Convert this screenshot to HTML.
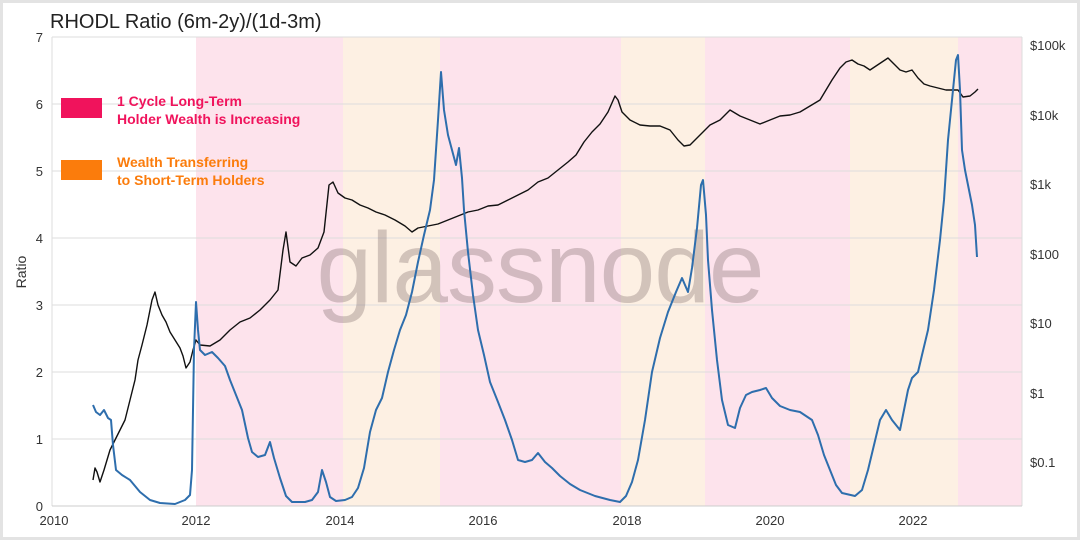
<!DOCTYPE html>
<html><head><meta charset="utf-8"><style>
html,body{margin:0;padding:0;background:#fff}
svg{display:block}
text{font-family:"Liberation Sans",sans-serif}
</style></head><body>
<svg width="1080" height="540" viewBox="0 0 1080 540" xmlns="http://www.w3.org/2000/svg">
<rect x="1.5" y="1.5" width="1077" height="537" fill="#fff" stroke="#e3e3e3" stroke-width="3"/>
<text x="50" y="28" font-size="20" fill="#222">RHODL Ratio (6m-2y)/(1d-3m)</text>
<rect x="196" y="37" width="147" height="469" fill="#fde3ec"/>
<rect x="343" y="37" width="97" height="469" fill="#fdf0e3"/>
<rect x="440" y="37" width="181" height="469" fill="#fde3ec"/>
<rect x="621" y="37" width="84" height="469" fill="#fdf0e3"/>
<rect x="705" y="37" width="145" height="469" fill="#fde3ec"/>
<rect x="850" y="37" width="108" height="469" fill="#fdf0e3"/>
<rect x="958" y="37" width="64" height="469" fill="#fde3ec"/>
<g stroke="#ddd" stroke-width="1">
<line x1="52" y1="37" x2="1022" y2="37"/><line x1="52" y1="104" x2="1022" y2="104"/>
<line x1="52" y1="171" x2="1022" y2="171"/><line x1="52" y1="238" x2="1022" y2="238"/>
<line x1="52" y1="305" x2="1022" y2="305"/><line x1="52" y1="372" x2="1022" y2="372"/>
<line x1="52" y1="439" x2="1022" y2="439"/>
<line x1="52" y1="37" x2="52" y2="506"/><line x1="1022" y1="37" x2="1022" y2="506"/>
<line x1="52" y1="506" x2="1022" y2="506" stroke="#ccc"/>
</g>
<g font-size="13" fill="#333" text-anchor="end">
<text x="43" y="42">7</text><text x="43" y="109">6</text><text x="43" y="176">5</text>
<text x="43" y="243">4</text><text x="43" y="310">3</text><text x="43" y="377">2</text>
<text x="43" y="444">1</text><text x="43" y="511">0</text>
</g>
<text x="26" y="272" font-size="14" fill="#333" text-anchor="middle" transform="rotate(-90 26 272)">Ratio</text>
<g font-size="13" fill="#333">
<text x="1030" y="50">$100k</text><text x="1030" y="120">$10k</text><text x="1030" y="189">$1k</text>
<text x="1030" y="259">$100</text><text x="1030" y="328">$10</text><text x="1030" y="398">$1</text>
<text x="1030" y="467">$0.1</text>
</g>
<g font-size="13" fill="#333" text-anchor="middle">
<text x="54" y="525">2010</text><text x="196" y="525">2012</text><text x="340" y="525">2014</text>
<text x="483" y="525">2016</text><text x="627" y="525">2018</text><text x="770" y="525">2020</text>
<text x="913" y="525">2022</text>
</g>
<text x="540" y="302" font-size="100" fill="#7a6262" fill-opacity="0.32" text-anchor="middle" letter-spacing="-1">glassnode</text>
<rect x="61" y="98" width="41" height="20" fill="#f0135c"/>
<text x="117" y="106" font-size="14" font-weight="bold" fill="#f0135c">1 Cycle Long-Term</text>
<text x="117" y="124" font-size="14" font-weight="bold" fill="#f0135c">Holder Wealth is Increasing</text>
<rect x="61" y="160" width="41" height="20" fill="#fb7c0c"/>
<text x="117" y="167" font-size="14" font-weight="bold" fill="#fb7c0c">Wealth Transferring</text>
<text x="117" y="185" font-size="14" font-weight="bold" fill="#fb7c0c">to Short-Term Holders</text>
<polyline fill="none" stroke="#111" stroke-width="1.4" stroke-linejoin="round" points="93,480 95,468 97,472 100,482 104,470 110,450 115,440 120,430 125,420 130,400 135,380 138,360 142,345 147,325 152,300 155,292 158,305 162,315 166,322 170,332 175,340 180,348 183,356 186,368 190,362 193,350 196,340 200,345 210,346 220,340 230,330 240,322 250,318 260,310 270,300 278,290 283,250 286,232 290,262 296,266 302,258 310,255 318,248 324,232 329,185 333,182 338,193 345,198 352,200 360,205 368,208 376,212 385,215 395,220 405,226 412,232 418,228 428,226 438,224 448,220 458,216 468,212 478,210 488,206 498,205 508,200 518,195 528,190 538,182 548,178 558,170 568,162 576,155 584,142 592,132 600,124 608,112 615,96 618,100 622,112 630,120 640,125 650,126 660,126 670,130 678,140 684,146 690,145 700,135 710,125 720,120 730,110 740,116 750,120 760,124 770,120 780,116 790,115 800,112 810,106 820,100 826,90 832,80 840,68 846,62 852,60 858,64 864,66 870,70 876,66 882,62 888,58 894,64 900,70 906,72 912,70 918,78 924,84 930,86 938,88 946,90 952,90 958,90 963,97 970,96 975,92 978,89"/>
<polyline fill="none" stroke="#2e6ead" stroke-width="2" stroke-linejoin="round" points="93,405 96,412 100,415 104,410 108,418 111,420 113,445 116,470 122,475 130,480 140,492 150,500 160,503 175,504 185,500 190,495 192,470 194,350 196,302 198,330 200,350 205,355 212,352 218,358 225,366 230,380 236,395 242,410 248,438 252,452 258,457 265,455 270,442 274,458 280,478 286,496 292,502 305,502 312,500 318,492 322,470 326,482 330,497 336,501 345,500 352,497 358,488 364,468 370,432 376,410 382,398 388,372 394,350 400,330 406,315 412,292 418,262 424,235 430,210 434,180 438,120 441,72 444,110 448,135 452,150 456,165 459,148 462,178 464,210 468,252 473,295 478,330 484,355 490,382 498,402 505,420 512,440 518,460 525,462 532,460 538,453 545,462 552,468 560,476 570,484 580,490 595,496 610,500 620,502 626,496 632,482 638,460 645,420 652,372 660,338 668,312 676,292 682,278 688,292 692,268 697,228 701,185 703,180 706,215 708,260 712,310 717,360 722,400 728,425 735,428 740,408 746,395 752,392 760,390 766,388 772,398 780,406 790,410 800,412 812,420 818,435 824,455 830,470 836,485 842,493 855,496 862,490 868,470 874,445 880,420 886,410 892,420 900,430 904,410 908,390 912,378 918,372 922,355 928,330 934,290 940,240 944,200 948,140 952,100 956,60 958,55 960,90 962,150 965,170 968,185 972,205 975,225 977,257"/>
</svg>
</body></html>
